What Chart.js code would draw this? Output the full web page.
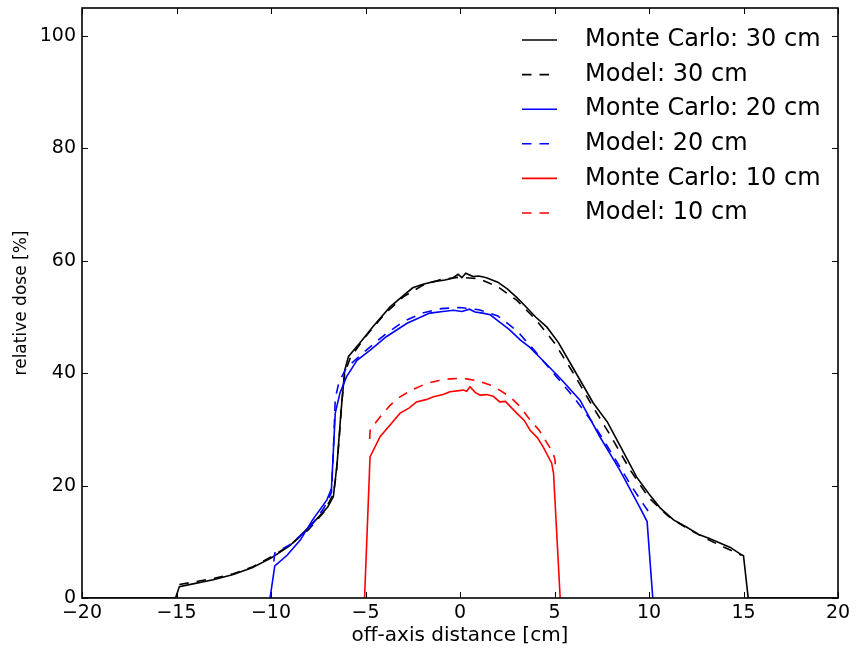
<!DOCTYPE html>
<html>
<head>
<meta charset="utf-8">
<script src="https://cdn.jsdelivr.net/npm/chart.js@4"></script>
<style>
  html, body { margin: 0; padding: 0; background: #fff; }
  #wrap { width: 856px; height: 651px; }
</style>
</head>
<body>
<div id="wrap"><canvas id="doseChart"></canvas></div>
<script>
// tick labels
const xTicks = [-20, -15, -10, -5, 0, 5, 10, 15, 20]
const yTicks = [0, 20, 40, 60, 80, 100]

// Monte Carlo, 30 cm field
const mc30X = [-20, -15.05, -14.85, -14.0, -13.0, -12.0, -11.0, -10.0, -9.0, -8.3, -7.6, -7.0, -6.7, -6.5, -6.3, -6.1, -5.9, -5.3, -4.6, -3.7, -3.0, -2.5, -2.0, -1.4, -0.8, -0.4, -0.1, 0.1, 0.3, 0.7, 1.0, 1.4, 2.0, 2.5, 3.0, 3.5, 4.0, 4.6, 5.2, 5.8, 6.35, 7.05, 7.8, 8.5, 9.35, 10.0, 10.6, 11.3, 12.0, 12.7, 13.2, 13.75, 14.3, 14.8, 15.0, 15.25, 20]
const mc30Y = [0, 0, 2.0, 2.6, 3.3, 4.2, 5.4, 7.1, 9.3, 11.6, 14.0, 16.2, 18.0, 24.0, 33.0, 40.5, 43.0, 45.4, 48.3, 51.8, 53.8, 55.2, 55.8, 56.3, 56.6, 56.9, 57.6, 57.0, 57.8, 57.2, 57.3, 57.0, 56.2, 55.0, 53.5, 51.8, 50.0, 48.2, 45.5, 42.0, 38.8, 34.7, 31.3, 26.9, 21.5, 18.5, 16.0, 13.9, 12.6, 11.2, 10.6, 9.8, 9.0, 7.9, 7.5, 0, 0]

// Model, 30 cm field
const mod30X = [-14.85, -14.0, -13.0, -12.0, -11.0, -10.0, -9.0, -8.0, -7.2, -6.7, -6.55, -6.4, -6.25, -6.1, -5.8, -5.0, -4.0, -3.0, -2.0, -1.0, 0.0, 1.0, 2.0, 3.0, 4.0, 5.0, 6.0, 7.0, 8.0, 9.0, 10.0, 11.0, 12.0, 13.0, 14.0, 14.9]
const mod30Y = [2.4, 2.9, 3.5, 4.3, 5.5, 7.3, 9.4, 12.2, 15.3, 18.5, 22.0, 28.0, 35.0, 40.0, 42.8, 46.5, 50.5, 53.6, 55.6, 56.7, 57.1, 56.8, 55.4, 53.0, 49.6, 45.4, 40.0, 34.2, 28.7, 22.8, 17.8, 14.6, 12.4, 10.6, 9.0, 7.6]

// Monte Carlo, 20 cm field
const mc20X = [-10.05, -9.8, -9.15, -8.45, -7.8, -7.05, -6.8, -6.6, -6.35, -6.0, -5.45, -4.75, -3.9, -2.8, -1.6, -0.9, -0.35, 0.1, 0.5, 0.8, 1.2, 1.6, 2.1, 2.6, 3.2, 3.7, 4.2, 5.3, 6.35, 7.4, 8.45, 9.5, 9.9, 10.2]
const mc20Y = [0, 5.7, 7.6, 10.3, 13.9, 17.4, 19.5, 32.9, 36.5, 39.4, 42.3, 44.1, 46.5, 48.9, 50.7, 51.0, 51.2, 51.0, 51.4, 50.9, 50.7, 50.4, 49.1, 47.8, 45.9, 44.6, 42.9, 39.1, 35.2, 28.7, 22.8, 16.2, 13.6, 0]

// Model, 20 cm field
const mod20X = [-9.85, -9.8, -9.0, -8.0, -7.2, -6.8, -6.7, -6.6, -6.4, -6.0, -5.0, -4.0, -3.0, -2.0, -1.0, 0.0, 1.0, 2.0, 3.0, 4.0, 5.0, 6.0, 7.0, 8.0, 9.0, 9.7, 10.05]
const mod20Y = [6.5, 8.0, 9.5, 12.3, 16.0, 18.8, 26.0, 35.5, 38.5, 41.0, 44.0, 46.8, 49.2, 50.7, 51.5, 51.7, 51.3, 50.2, 47.6, 43.8, 39.8, 35.8, 31.3, 25.9, 20.3, 16.7, 15.0]

// Monte Carlo, 10 cm field
const mc10X = [-5.05, -4.76, -4.23, -3.6, -3.17, -2.7, -2.3, -1.8, -1.4, -0.9, -0.53, 0.17, 0.35, 0.53, 0.8, 1.06, 1.4, 1.76, 2.1, 2.4, 3.0, 3.4, 3.7, 4.1, 4.4, 4.85, 4.95, 5.3]
const mc10Y = [0, 25.1, 28.7, 31.2, 32.9, 33.8, 34.9, 35.3, 35.8, 36.2, 36.7, 37.0, 36.8, 37.6, 36.6, 36.1, 36.2, 35.9, 34.9, 35.0, 32.9, 31.6, 29.9, 28.5, 26.9, 24.0, 22.2, 0]

// Model, 10 cm field
const mod10X = [-4.78, -4.75, -4.23, -3.7, -3.17, -2.5, -1.76, -1.1, -0.53, 0.0, 0.35, 1.0, 1.6, 2.1, 2.65, 3.2, 3.7, 4.2, 4.6, 4.9, 5.03, 5.05]
const mod10Y = [28.3, 30.0, 32.2, 34.3, 35.8, 37.1, 38.2, 38.7, 39.0, 39.1, 39.0, 38.6, 37.9, 37.0, 35.8, 34.0, 31.7, 29.8, 27.6, 26.0, 24.6, 22.5]

const labels = ['Monte Carlo: 30 cm', 'Model: 30 cm', 'Monte Carlo: 20 cm', 'Model: 20 cm', 'Monte Carlo: 10 cm', 'Model: 10 cm']
const colors = ['#000000', '#000000', '#0000ff', '#0000ff', '#ff0000', '#ff0000']

const FONT = 'DejaVu Sans'
const LW = 1.6
const DASH = [9.5, 8]

function toPoints(xs, ys) {
    return xs.map((x, i) => ({ x: x, y: ys[i] }))
}

const series = [[mc30X, mc30Y], [mod30X, mod30Y], [mc20X, mc20Y], [mod20X, mod20Y], [mc10X, mc10Y], [mod10X, mod10Y]]

const datasets = series.map((s, i) => ({
    label: labels[i],
    data: toPoints(s[0], s[1]),
    showLine: true,
    borderColor: colors[i],
    backgroundColor: colors[i],
    borderWidth: LW,
    borderDash: i % 2 ? DASH : [],
    pointRadius: 0,
    tension: 0,
    order: 6 - i
}))

//frame, inward ticks and the legend, drawn like matplotlib
const framePlugin = {
    id: 'frame',
    afterDraw(chart) {
        const ctx = chart.ctx
        const a = chart.chartArea
        const xs = chart.scales.x, ys = chart.scales.y
        ctx.save()
        ctx.strokeStyle = '#000'
        ctx.lineWidth = 1
        ctx.setLineDash([])
        ctx.beginPath()
        xTicks.forEach(v => {
            const px = Math.round(xs.getPixelForValue(v)) + 0.5
            ctx.moveTo(px, a.bottom); ctx.lineTo(px, a.bottom - 6)
            ctx.moveTo(px, a.top); ctx.lineTo(px, a.top + 6)
        })
        yTicks.forEach(v => {
            const py = Math.round(ys.getPixelForValue(v)) + 0.5
            ctx.moveTo(a.left, py); ctx.lineTo(a.left + 6, py)
            ctx.moveTo(a.right, py); ctx.lineTo(a.right - 6, py)
        })
        ctx.stroke()
        ctx.lineWidth = 1.6
        ctx.strokeRect(a.left, a.top, a.right - a.left, a.bottom - a.top)

        //legend
        ctx.font = '24px "' + FONT + '"'
        ctx.textBaseline = 'middle'
        ctx.textAlign = 'left'
        chart.data.datasets.forEach((d, i) => {
            const y = 40 + i * 34.6
            ctx.strokeStyle = d.borderColor
            ctx.lineWidth = LW
            ctx.setLineDash(d.borderDash)
            ctx.beginPath()
            ctx.moveTo(522, y); ctx.lineTo(557, y)
            ctx.stroke()
            ctx.setLineDash([])
            ctx.fillStyle = '#000'
            ctx.fillText(d.label, 585, y)
        })
        ctx.restore()
    }
}

const ctx = document.getElementById('doseChart').getContext('2d')
const doseChart = new Chart(ctx, {
    type: 'scatter',
    data: { datasets: datasets },
    options: {
        responsive: true,
        maintainAspectRatio: false,
        animation: false,
        layout: { padding: { top: 8, right: 18, left: 0, bottom: 0 } },
        plugins: {
            legend: { display: false },
            tooltip: { enabled: false }
        },
        scales: {
            x: {
                type: 'linear',
                min: -20,
                max: 20,
                afterBuildTicks: (scale) => { scale.ticks = xTicks.map(v => ({ value: v })) },
                afterFit: (scale) => {
                    scale.height = 53
                    scale.paddingLeft = 0
                    scale.paddingRight = 0
                },
                ticks: {
                    color: '#000',
                    padding: 4,
                    maxRotation: 0,
                    font: { family: FONT, size: 19 },
                    callback: (v) => String(v).replace('-', '\u2212')
                },
                grid: { display: false, drawTicks: false },
                border: { display: false },
                title: {
                    display: true,
                    text: 'off-axis distance [cm]',
                    color: '#000',
                    font: { family: FONT, size: 20 },
                    padding: { top: 0, bottom: 3 }
                }
            },
            y: {
                type: 'linear',
                min: 0,
                max: 105,
                afterBuildTicks: (scale) => { scale.ticks = yTicks.map(v => ({ value: v })) },
                afterFit: (scale) => {
                    scale.width = 82
                    scale.paddingTop = 0
                    scale.paddingBottom = 0
                },
                ticks: {
                    color: '#000',
                    padding: 6,
                    font: { family: FONT, size: 19 }
                },
                grid: { display: false, drawTicks: false },
                border: { display: false },
                title: {
                    display: true,
                    text: 'relative dose [%]',
                    color: '#000',
                    font: { family: FONT, size: 17 },
                    padding: { top: 11, bottom: 0 }
                }
            }
        }
    },
    plugins: [framePlugin]
})
</script>
</body>
</html>
